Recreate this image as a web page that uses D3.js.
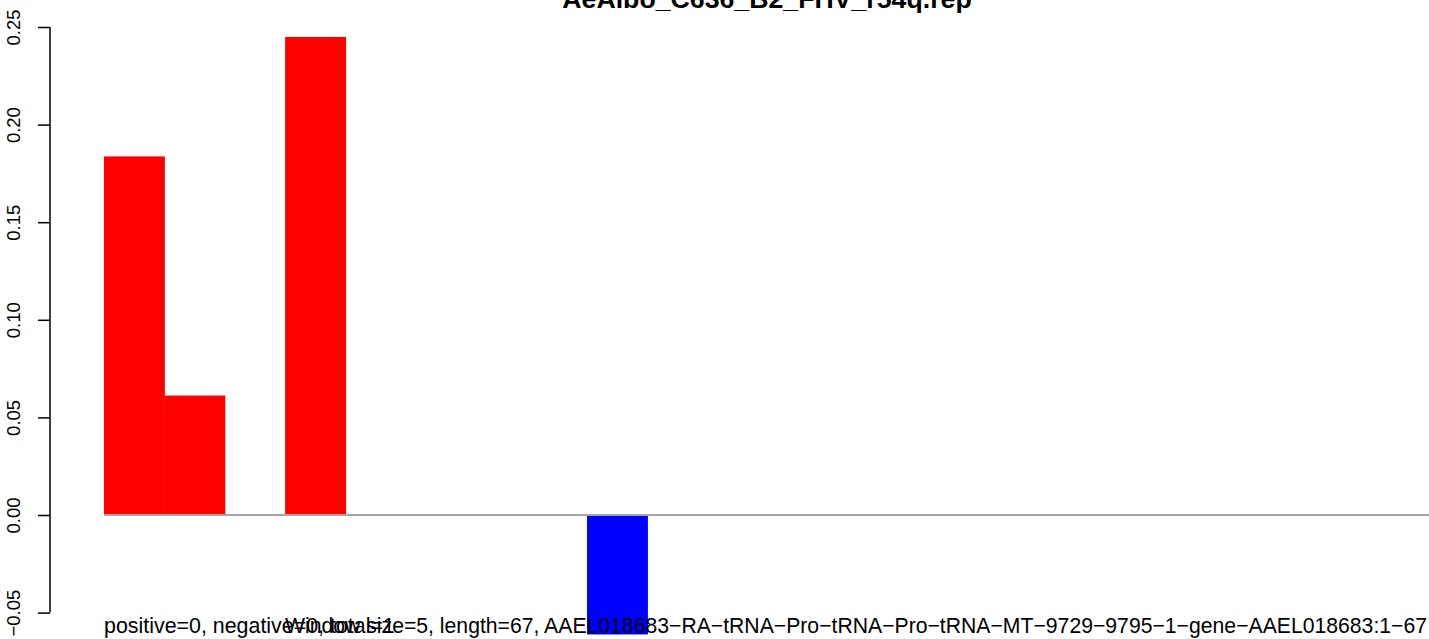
<!DOCTYPE html>
<html>
<head>
<meta charset="utf-8">
<script src="https://cdn.jsdelivr.net/npm/d3@7"></script>
<style>
  html, body { margin: 0; padding: 0; background: #fff; }
  svg { display: block; font-family: "Liberation Sans", Arial, sans-serif; }
</style>
</head>
<body>
<svg id="chart" width="1429" height="639"></svg>
<script>
// window scores per position (window size 5)
let values = [0.1837, 0.0612, 0, 0.2449, 0, 0, 0, 0, -0.0612, 0, 0,
              0, 0, 0, 0, 0, 0, 0, 0, 0, 0, 0];
let yTicks = [-0.05, 0, 0.05, 0.10, 0.15, 0.20, 0.25];
let title = "AeAlbo_C636_B2_FHV_r54q.rep";
let subLeft = "positive=0, negative=0, total=1";
let subRight = "Window size=5, length=67, AAEL018683\u2212RA\u2212tRNA\u2212Pro\u2212tRNA\u2212Pro\u2212tRNA\u2212MT\u22129729\u22129795\u22121\u2212gene\u2212AAEL018683:1\u221267";

let svg = d3.select("#chart");

let x = d3.scaleBand()
  .domain(d3.range(values.length))
  .range([104, 104 + values.length * 60.38])
  .padding(0);

let y = d3.scaleLinear()
  .domain([-0.05, 0.25])
  .range([612.6, 27]);

// bars
svg.append("g").selectAll("rect")
  .data(values)
  .join("rect")
  .attr("x", (d, i) => x(i))
  .attr("width", x.bandwidth() + 0.5)
  .attr("y", d => y(Math.max(0, d)))
  .attr("height", d => Math.abs(y(d) - y(0)))
  .attr("fill", d => d >= 0 ? "#ff0000" : "#0000ff");

// zero line
svg.append("line")
  .attr("x1", x(0))
  .attr("x2", x(values.length - 1) + x.bandwidth())
  .attr("y1", y(0))
  .attr("y2", y(0))
  .attr("stroke", "#a6a6a6")
  .attr("stroke-width", 2);

// y axis, R style
let yAxis = svg.append("g")
  .attr("transform", "translate(50,0)")
  .call(d3.axisLeft(y).tickValues(yTicks).tickSize(12).tickFormat(d3.format(".2f")));
yAxis.select(".domain")
  .attr("d", `M0,${y(-0.05)}V${y(0.25)}`)
  .attr("stroke", "#000")
  .attr("stroke-width", 1.5);
yAxis.selectAll(".tick line").attr("stroke", "#000").attr("stroke-width", 1.5);
yAxis.selectAll(".tick text")
  .attr("x", null).attr("dy", null)
  .attr("transform", "translate(-30,0) rotate(-90)")
  .attr("text-anchor", "middle")
  .style("font-family", "'Liberation Sans', Arial, sans-serif")
  .style("font-size", "18.5px")
  .attr("fill", "#000")
  .text(d => d3.format(".2f")(d).replace("-", "\u2212"));

// title
svg.append("text")
  .attr("x", 767)
  .attr("y", 8)
  .attr("text-anchor", "middle")
  .attr("font-weight", "bold")
  .style("font-size", "26.7px")
  .text(title);

// bottom notes (overlapping as in the original)
svg.append("text")
  .attr("x", 104)
  .attr("y", 633)
  .style("font-size", "21.4px")
  .text(subLeft);

svg.append("text")
  .attr("x", 285)
  .attr("y", 633)
  .style("font-size", "21.4px")
  .attr("textLength", 1142)
  .attr("lengthAdjust", "spacingAndGlyphs")
  .text(subRight);
</script>
</body>
</html>
